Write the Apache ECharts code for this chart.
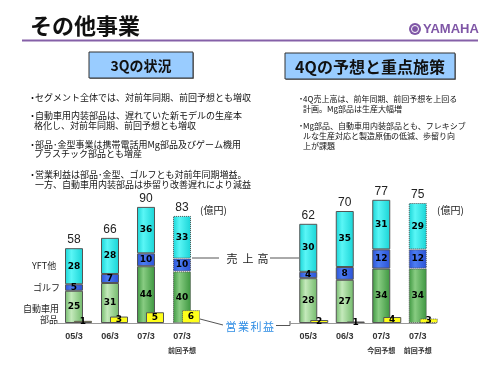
<!DOCTYPE html>
<html>
<head>
<meta charset="utf-8">
<script src="https://cdn.jsdelivr.net/npm/echarts@6/dist/echarts.min.js"></script>
<style>
  html, body { margin: 0; padding: 0; background: #fff; }
  #main { width: 500px; height: 375px; }
</style>
</head>
<body>
<div id="main"></div>
<script>
// categories
const years = ['05/3', '06/3', '07/3', '07/3']
const leftNotes = ['', '', '', '前回予想']
const rightNotes = ['', '', '今回予想', '前回予想']

// 3Q (left) — 億円
const leftAuto = [25, 31, 44, 40]
const leftGolf = [5, 7, 10, 10]
const leftYft = [28, 28, 36, 33]
const leftProfit = [1, 3, 5, 6]

// 4Q (right) — 億円
const rightAuto = [28, 27, 34, 34]
const rightGolf = [4, 8, 12, 12]
const rightYft = [30, 35, 31, 29]
const rightProfit = [2, 1, 4, 3]

const forecastIdx = 3

const jp = '"Noto Sans CJK JP", sans-serif'
const num = '"DejaVu Sans", sans-serif'
const lat = '"Liberation Sans", sans-serif'

function grad (edge, mid) {
  return new echarts.graphic.LinearGradient(0, 0, 1, 0, [
    { offset: 0, color: edge },
    { offset: 0.35, color: mid },
    { offset: 1, color: edge }
  ])
}
const greenLight = grad('#72ba6b', '#c4e9bb')
const greenDark = grad('#3c963f', '#88cc82')
const golfBlue = grad('#2a52d6', '#4d7df2')
const yftCyan = grad('#18d4d6', '#5af6f6')

function itemStyle (i, color) {
  return {
    color: color,
    borderColor: '#555',
    borderWidth: 1,
    borderType: i === forecastIdx ? 'dotted' : 'solid'
  }
}

function segment (name, values, colorOf, gi, stack) {
  return {
    name: name,
    type: 'bar',
    stack: stack,
    xAxisIndex: gi,
    yAxisIndex: gi,
    barWidth: 18,
    silent: true,
    data: values.map((v, i) => ({ value: v, itemStyle: itemStyle(i, colorOf(i)) })),
    label: { show: true, position: 'inside', color: '#000', fontWeight: 'bold', fontSize: 9, fontFamily: num }
  }
}

function total (parts, gi, stack) {
  const sums = parts[0].map((v, i) => parts.reduce((s, p) => s + p[i], 0))
  return {
    type: 'bar',
    stack: stack,
    xAxisIndex: gi,
    yAxisIndex: gi,
    barWidth: 18,
    silent: true,
    data: sums.map(() => 0),
    itemStyle: { color: 'transparent', borderWidth: 0 },
    label: {
      show: true,
      position: 'top',
      distance: 2,
      formatter: p => sums[p.dataIndex],
      color: '#222',
      fontSize: 12,
      fontFamily: lat
    }
  }
}

function profit (values, gi) {
  return {
    type: 'bar',
    xAxisIndex: gi,
    yAxisIndex: gi,
    barWidth: 18,
    z: 4,
    silent: true,
    data: values.map((v, i) => ({ value: v, itemStyle: itemStyle(i, '#ffff1a') })),
    label: { show: true, position: 'inside', color: '#000', fontWeight: 'bold', fontSize: 9, fontFamily: num }
  }
}

function catAxis (gi, notes, show) {
  return {
    type: 'category',
    gridIndex: gi,
    data: years,
    show: show,
    axisLine: { lineStyle: { color: '#999', width: 1 } },
    axisTick: { show: false },
    axisLabel: {
      interval: 0,
      margin: 8,
      color: '#333',
      fontSize: 9,
      fontWeight: 'bold',
      fontFamily: lat,
      lineHeight: 12,
      formatter: (v, i) => notes[i] ? v + '\n{n|' + notes[i] + '}' : v,
      rich: { n: { fontSize: 7, fontWeight: 'bold', fontFamily: jp, lineHeight: 14, color: '#333' } }
    }
  }
}

function valAxis (gi, max) {
  return { type: 'value', gridIndex: gi, min: 0, max: max, show: false }
}

function txt (x, y, text, size, extra) {
  const align = (extra && extra.align) || 'left'
  return {
    type: 'text',
    silent: true,
    x: x,
    y: y,
    style: Object.assign({
      text: text,
      fontSize: size,
      fontFamily: jp,
      fill: '#111',
      align: align,
      textAlign: align,
      verticalAlign: 'middle',
      textVerticalAlign: 'middle'
    }, extra || {})
  }
}

function line (pts, color, w) {
  return { type: 'polyline', silent: true, shape: { points: pts }, style: { stroke: color || '#555', lineWidth: w || 1, fill: null } }
}

const leftLines = [
  ['・', 28, 98], ['セグメント全体では、対前年同期、前回予想とも増収', 35, 98],
  ['・', 28, 116], ['自動車用内装部品は、遅れていた新モデルの生産本', 35, 116],
  ['格化し、対前年同期、前回予想とも増収', 34, 126],
  ['・', 28, 145], ['部品･金型事業は携帯電話用Mg部品及びゲーム機用', 35, 145],
  ['プラスチック部品とも増産', 34, 154],
  ['・', 28, 175], ['営業利益は部品･金型、ゴルフとも対前年同期増益。', 35, 175],
  ['一方、自動車用内装部品は歩留り改善遅れにより減益', 35, 184.5]
]
const rightLines = [
  ['・', 297, 99], ['4Q売上高は、前年同期、前回予想を上回る', 303, 99],
  ['計画。Mg部品は生産大幅増', 303, 109],
  ['・', 297, 126], ['Mg部品、自動車用内装部品とも、フレキシブ', 303, 126],
  ['ルな生産対応と製造原価の低減、歩留り向', 303, 136],
  ['上が課題', 303, 146]
]

const graphics = [
  txt(30, 26, 'その他事業', 22, { fontWeight: 'bold' }),
  line([[22, 40.5], [478, 40.5]], '#8560a8', 2),
  { type: 'circle', silent: true, shape: { cx: 415, cy: 29, r: 6 }, style: { fill: '#7f56a6' } },
  { type: 'circle', silent: true, shape: { cx: 415, cy: 29, r: 3.5 }, style: { fill: null, stroke: '#fff', lineWidth: 1 } },
  txt(423, 29.5, 'YAMAHA', 13, { fontWeight: 'bold', fontFamily: lat, fill: '#7f56a6' }),

  { type: 'rect', silent: true, shape: { x: 90, y: 53, width: 104, height: 26 }, style: { fill: '#888' } },
  { type: 'rect', silent: true, shape: { x: 89, y: 52, width: 104, height: 26 }, style: { fill: '#99ccff', stroke: '#333', lineWidth: 1 } },
  txt(141, 65.5, '3Qの状況', 14, { fontWeight: 'bold', align: 'center' }),
  { type: 'rect', silent: true, shape: { x: 286, y: 54, width: 170, height: 26 }, style: { fill: '#888' } },
  { type: 'rect', silent: true, shape: { x: 285, y: 53, width: 170, height: 26 }, style: { fill: '#99ccff', stroke: '#333', lineWidth: 1 } },
  txt(370, 66.5, '4Qの予想と重点施策', 16, { fontWeight: 'bold', align: 'center' }),

  txt(32, 266, 'YFT他', 9, { fill: '#222' }),
  txt(33, 288, 'ゴルフ', 9, { fill: '#222' }),
  txt(23, 309, '自動車用', 9, { fill: '#222' }),
  txt(40, 320, '部品', 9, { fill: '#222' }),

  txt(200, 210, '(億円)', 10, { fill: '#222' }),
  txt(437, 210, '(億円)', 10, { fill: '#222' }),

  line([[192, 258], [219, 258]]),
  txt(232, 259, '売', 11, { align: 'center', fill: '#222' }),
  txt(248, 259, '上', 11, { align: 'center', fill: '#222' }),
  txt(263, 259, '高', 11, { align: 'center', fill: '#222' }),
  line([[270, 258], [299, 258]]),

  line([[200, 319], [223, 325]]),
  txt(231, 327, '営', 11, { align: 'center', fill: '#2f8de4' }),
  txt(243.5, 327, '業', 11, { align: 'center', fill: '#2f8de4' }),
  txt(256, 327, '利', 11, { align: 'center', fill: '#2f8de4' }),
  txt(268.5, 327, '益', 11, { align: 'center', fill: '#2f8de4' }),
  line([[276, 325.5], [290, 325.5], [290, 321]])
]
leftLines.forEach(l => graphics.push(txt(l[1], l[2], l[0], 9, { fill: '#111' })))
rightLines.forEach(l => graphics.push(txt(l[1], l[2], l[0], 8, { fill: '#111' })))

const chart = echarts.init(document.getElementById('main'))
chart.setOption({
  animation: false,
  backgroundColor: '#fff',
  grid: [
    { left: 56, top: 194, width: 144, height: 129, outerBoundsMode: 'none' },
    { left: 65, top: 194, width: 144, height: 129, outerBoundsMode: 'none' },
    { left: 290, top: 163, width: 146, height: 160, outerBoundsMode: 'none' },
    { left: 301, top: 163, width: 146, height: 160, outerBoundsMode: 'none' }
  ],
  xAxis: [
    catAxis(0, leftNotes, true),
    catAxis(1, leftNotes, false),
    catAxis(2, rightNotes, true),
    catAxis(3, rightNotes, false)
  ],
  yAxis: [valAxis(0, 100), valAxis(1, 60), valAxis(2, 100), valAxis(3, 107)],
  series: [
    segment('自動車用部品', leftAuto, i => i < 2 ? greenLight : greenDark, 0, 'L'),
    segment('ゴルフ', leftGolf, () => golfBlue, 0, 'L'),
    segment('YFT他', leftYft, () => yftCyan, 0, 'L'),
    total([leftAuto, leftGolf, leftYft], 0, 'L'),
    profit(leftProfit, 1),
    segment('自動車用部品', rightAuto, i => i < 2 ? greenLight : greenDark, 2, 'R'),
    segment('ゴルフ', rightGolf, () => golfBlue, 2, 'R'),
    segment('YFT他', rightYft, () => yftCyan, 2, 'R'),
    total([rightAuto, rightGolf, rightYft], 2, 'R'),
    profit(rightProfit, 3)
  ],
  graphic: graphics
})
</script>
</body>
</html>
